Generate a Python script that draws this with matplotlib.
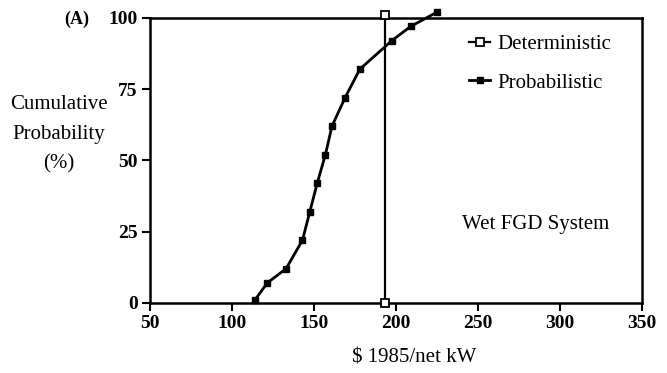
import matplotlib
matplotlib.use("Agg")
import matplotlib.pyplot as plt

# Data
prob_cost = [114, 121.5, 133, 143, 147.5, 152, 157, 161, 169, 178, 197.5, 209, 225]
prob_cum = [1, 7, 12, 22, 32, 42, 52, 62, 72, 82, 92, 97, 102]
det_cost = [193.5, 193.5]
det_cum = [0, 101]

xticks = [50, 100, 150, 200, 250, 300, 350]
yticks = [0, 25, 50, 75, 100]

plt.rcParams['font.family'] = ['Liberation Serif', 'DejaVu Serif']

fig = plt.figure(figsize=(6.67, 3.73), dpi=100)
ax = fig.add_axes([0.225, 0.188, 0.737, 0.764])

ax.plot(det_cost, det_cum, color='black', lw=1.6, marker='s', ms=5.5,
        mfc='white', mec='black', mew=1.3, clip_on=False, zorder=3,
        label='Deterministic')
ax.plot(prob_cost, prob_cum, color='black', lw=2.0, marker='s', ms=5,
        mfc='black', mec='black', clip_on=False, zorder=4,
        label='Probabilistic')

ax.set_xlim(50, 350)
ax.set_ylim(0, 100)
ax.set_xticks(xticks)
ax.set_yticks(yticks)
ax.tick_params(direction='out', length=6, width=1.5, labelsize=14, pad=3)
for lab in ax.get_xticklabels() + ax.get_yticklabels():
    lab.set_fontweight('bold')
for s in ax.spines.values():
    s.set_linewidth(1.8)

fig.text(0.621, 0.040, '\\$ 1985/net kW', ha='center', va='center', fontsize=15)

fig.text(0.088, 0.640, 'Cumulative\nProbability\n(%)', ha='center', va='center',
         fontsize=15, linespacing=1.72)
fig.text(0.115, 0.947, '(A)', ha='center', va='center', fontsize=13,
         fontweight='bold')

ax.text(285, 27.4, 'Wet FGD System', ha='center', va='center', fontsize=15)

leg = ax.legend(loc='upper left', bbox_to_anchor=(0.632, 0.97), frameon=False,
                handlelength=1.0, handletextpad=0.35, fontsize=15,
                labelspacing=0.9, borderaxespad=0)

fig.savefig('out.png', dpi=100)
